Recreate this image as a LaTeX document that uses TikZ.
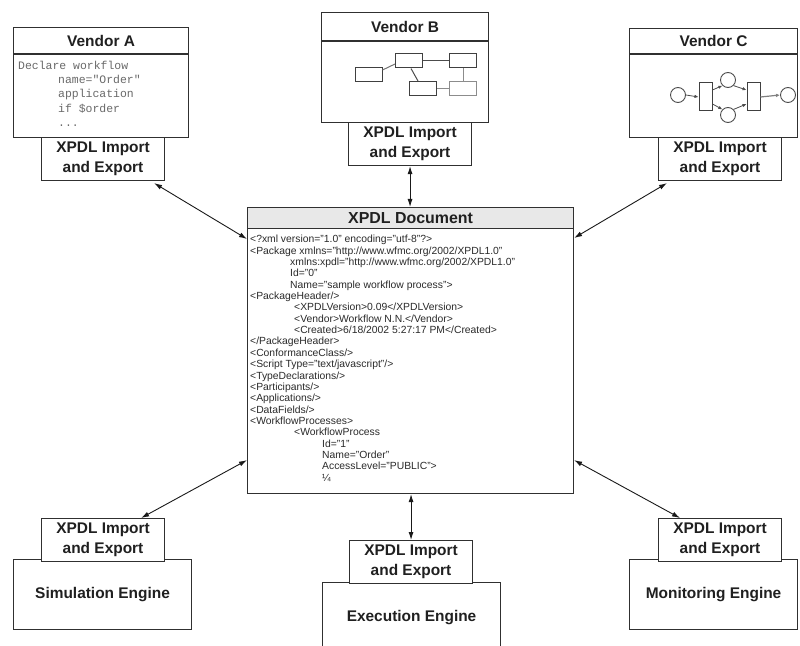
\documentclass[tikz,border=0pt]{standalone}
\usepackage{fontspec}
\setmainfont{Liberation Sans}
\setmonofont{Liberation Mono}
\usetikzlibrary{arrows.meta}

\definecolor{edge}{HTML}{303030}
\definecolor{ink}{HTML}{202020}
\definecolor{headfill}{HTML}{E8E8E8}
\definecolor{codegray}{HTML}{6A6A6A}
\definecolor{xmlink}{HTML}{2A2A2A}

\tikzset{
  frame/.style={draw=edge, line width=1.1bp, fill=white, inner sep=0pt, anchor=north west},
  title/.style={font=\fontsize{15.5}{18}\selectfont\bfseries, text=ink},
  port/.style={frame, minimum width=123bp, minimum height=43bp, align=center,
    font=\fontsize{15.5}{20}\selectfont\bfseries, text=ink},
  engine/.style={frame, minimum width=178bp, minimum height=70bp,
    font=\fontsize{15.5}{18}\selectfont\bfseries, text=ink},
  link/.style={draw=black!90, line width=0.9bp,
    {Latex[length=8bp,width=5bp]}-{Latex[length=8bp,width=5bp]}},
  code/.style={font=\fontsize{11.5}{14.25}\ttfamily, text=codegray, align=left,
    anchor=north west, inner sep=0pt},
  xml/.style={font=\fontsize{10.4}{11.4}\selectfont, text=xmlink, align=left,
    anchor=north west, inner sep=0pt},
  bbox/.style={draw=black!75, line width=1bp, minimum width=27bp, minimum height=14bp, inner sep=0pt},
  blink/.style={draw=black!70, line width=1bp},
  place/.style={circle, draw=black!70, line width=0.9bp, minimum size=15bp, inner sep=0pt},
  trans/.style={draw=black!75, line width=1bp, minimum width=13bp, minimum height=28bp, inner sep=0pt},
  arc/.style={draw=black!70, line width=0.8bp, -{Latex[length=4bp,width=3.5bp]}},
}

\begin{document}
\begin{tikzpicture}[x=1bp,y=-1bp]
\useasboundingbox (0,0) rectangle (800,646);
\clip (0,0) rectangle (800,646);

% ---------------- Vendor A ----------------
\node[frame, minimum width=175bp, minimum height=110bp] (vendA) at (13,27) {};
\draw[edge, line width=1.1bp] ([yshift=-27bp]vendA.north west) -- ([yshift=-27bp]vendA.north east);
\node[title] (vendAtitle) at ([yshift=-14bp]vendA.north) {Vendor A};
\node[code] (vendAcode) at (18,61) {Declare workflow\\
  \hspace*{40bp}name="Order"\\
  \hspace*{40bp}application\\
  \hspace*{40bp}if \$order\\
  \hspace*{40bp}...};
\node[port] (impA) at (41,137) {XPDL Import\\and Export};

% ---------------- Vendor B ----------------
\node[frame, minimum width=167bp, minimum height=110bp] (vendB) at (321,12) {};
\draw[edge, line width=1.1bp] ([yshift=-29bp]vendB.north west) -- ([yshift=-29bp]vendB.north east);
\node[title] (vendBtitle) at ([yshift=-15bp]vendB.north) {Vendor B};
\node[bbox] (b1) at (368.5,75) {};
\node[bbox] (b2) at (409,61) {};
\node[bbox] (b3) at (463,61) {};
\node[bbox] (b4) at (423,88.5) {};
\node[bbox, draw=black!45] (b5) at (463,88.5) {};
\draw[blink, draw=black!55] ([yshift=5bp]b1.east) -- ([yshift=-3bp]b2.west);
\draw[blink] (b2.east) -- (b3.west);
\draw[blink] ([xshift=2bp]b2.south) -- ([xshift=-5bp]b4.north);
\draw[blink, draw=black!45] (b4.east) -- (b5.west);
\draw[blink, draw=black!45] (b3.south) -- (b5.north);
\node[port] (impB) at (348,122) {XPDL Import\\and Export};

% ---------------- Vendor C ----------------
\node[frame, minimum width=168bp, minimum height=109bp] (vendC) at (629,28) {};
\draw[edge, line width=1.1bp] ([yshift=-26bp]vendC.north west) -- ([yshift=-26bp]vendC.north east);
\node[title] (vendCtitle) at ([yshift=-13bp]vendC.north) {Vendor C};
\node[place] (p1) at (678,95) {};
\node[trans] (t1) at (705.5,97) {};
\node[place] (p2) at (728,80) {};
\node[place] (p3) at (728,115) {};
\node[trans] (t2) at (753.5,97) {};
\node[place] (p4) at (788,95) {};
\draw[arc] (p1.east) -- (t1.west);
\draw[arc] ([yshift=7bp]t1.east) -- (p2.south west);
\draw[arc] ([yshift=-7bp]t1.east) -- (p3.north west);
\draw[arc] (p2.south east) -- ([yshift=7bp]t2.west);
\draw[arc] (p3.north east) -- ([yshift=-7bp]t2.west);
\draw[arc, draw=black!50, line width=1.2bp] (t2.east) -- (p4.west);
\node[port] (impC) at (658,137) {XPDL Import\\and Export};

% ---------------- XPDL document ----------------
\node[frame, minimum width=326bp, minimum height=286bp] (doc) at (247,207) {};
\node[frame, fill=headfill, minimum width=326bp, minimum height=21bp,
  font=\fontsize{16}{18}\selectfont\bfseries, text=ink] (dochead) at (247,207) {XPDL Document};
\node[xml] (doctext) at (250,235) {%
<?xml version="1.0" encoding="utf-8"?>\\
<Package xmlns="http://www.wfmc.org/2002/XPDL1.0"\\
\hspace*{40bp}xmlns:xpdl="http://www.wfmc.org/2002/XPDL1.0"\\
\hspace*{40bp}Id="0"\\
\hspace*{40bp}Name="sample workflow process">\\
<PackageHeader/>\\
\hspace*{44bp}<XPDLVersion>0.09</XPDLVersion>\\
\hspace*{44bp}<Vendor>Workflow N.N.</Vendor>\\
\hspace*{44bp}<Created>6/18/2002 5:27:17 PM</Created>\\
</PackageHeader>\\
<ConformanceClass/>\\
<Script Type="text/javascript"/>\\
<TypeDeclarations/>\\
<Participants/>\\
<Applications/>\\
<DataFields/>\\
<WorkflowProcesses>\\
\hspace*{44bp}<WorkflowProcess\\
\hspace*{72bp}Id="1"\\
\hspace*{72bp}Name="Order"\\
\hspace*{72bp}AccessLevel="PUBLIC">\\
\hspace*{72bp}¼};

% ---------------- Engines ----------------
\node[engine] (simEng) at (13,559) {Simulation Engine};
\node[port] (impSim) at (41,518) {XPDL Import\\and Export};
\node[engine] (execEng) at (322,582) {Execution Engine};
\node[port] (impExec) at (349,540) {XPDL Import\\and Export};
\node[engine, minimum width=168bp] (monEng) at (629,559) {Monitoring Engine};
\node[port] (impMon) at (658,518) {XPDL Import\\and Export};

% ---------------- Import / export links ----------------
\draw[link] ([xshift=-11bp,yshift=-2bp]impA.south east) -- ([yshift=-32bp]doc.north west);
\draw[link] (impB.south) -- (impB.south |- doc.north);
\draw[link] ([xshift=9bp,yshift=-2bp]impC.south west) -- ([yshift=-31bp]doc.north east);
\draw[link] ([xshift=-24bp]impSim.north east) -- ([yshift=34bp]doc.south west);
\draw[link] (doc.south -| impExec.north) -- (impExec.north);
\draw[link] ([xshift=22bp]impMon.north west) -- ([yshift=34bp]doc.south east);
\end{tikzpicture}
\end{document}
